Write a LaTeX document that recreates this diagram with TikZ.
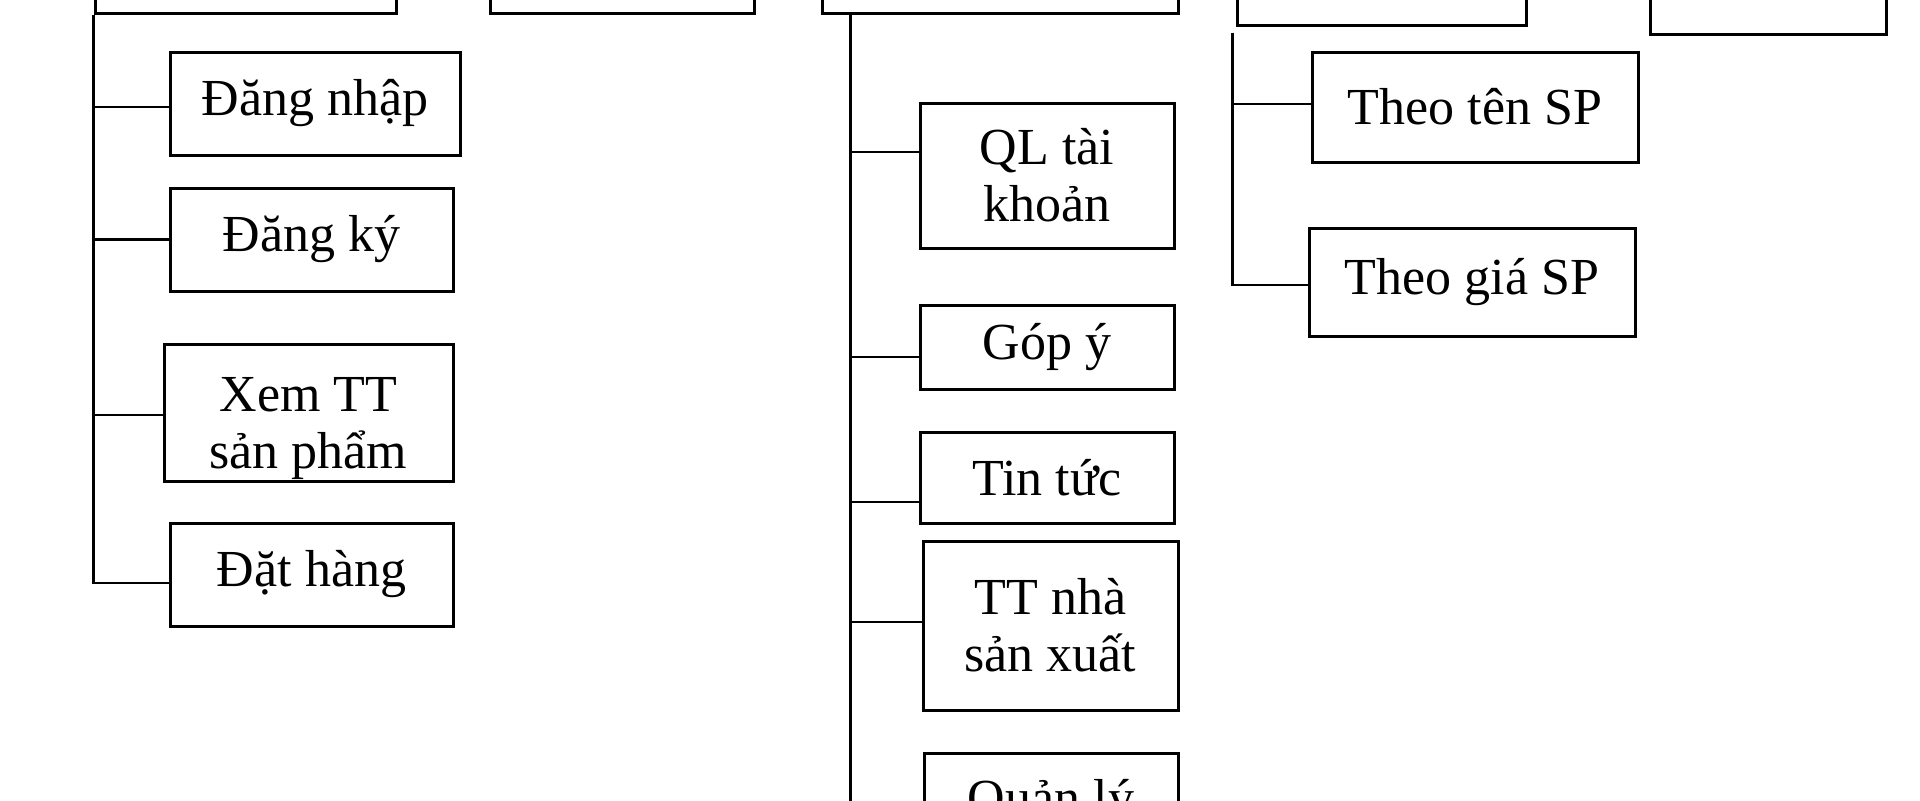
\documentclass[tikz,border=0pt]{standalone}
\usepackage{fontspec}
\setmainfont{Liberation Serif}
\usetikzlibrary{positioning, calc}

\begin{document}
\begin{tikzpicture}[
        x=0.5pt, y=-0.5pt,
        every node/.style={font=\fontsize{26pt}{28.5pt}\selectfont},
        box/.style={draw, rectangle, line width=1.5pt, align=center, inner sep=0pt},
        link/.style={line width=1.2pt}
    ]
        \useasboundingbox (0,0) rectangle (1920,800);
        \clip (0,0) rectangle (1920,800);
        \fill[white] (0,0) rectangle (1920,800);
        % top row, cut off by the page edge
        \node[box, minimum width=150.5pt, minimum height=50pt] (guest) at (245.5,-37) {};
        \node[box, minimum width=132pt, minimum height=50pt] (cart) at (622,-37) {};
        \node[box, minimum width=178pt, minimum height=50pt] (member) at (1000,-37) {};
        \node[box, minimum width=144.5pt, minimum height=50pt] (search) at (1381.5,-25) {};
        \node[box, minimum width=118pt, minimum height=50pt] (contact) at (1768,-16) {};

        \node[box, minimum width=145pt, minimum height=51.5pt] (login) at (315,103.5) {Đăng nhập};
        \node[box, minimum width=141.5pt, minimum height=51.5pt] (register) at (311.5,239.5) {Đăng ký};
        \node[box, minimum width=144.5pt, minimum height=68.5pt,
              label={[name=viewprodtext, align=center, yshift=-8pt]center:Xem TT\\sản phẩm}] (viewprod) at (308.5,412.5) {};
        \node[box, minimum width=141.5pt, minimum height=51.5pt] (order) at (311.5,574.5) {Đặt hàng};

        \node[box, minimum width=127pt, minimum height=72.5pt] (account) at (1047,175.5) {QL tài\\khoản};
        \node[box, minimum width=127pt, minimum height=42pt] (feedback) at (1047,347) {Góp ý};
        \node[box, minimum width=127pt, minimum height=45.5pt] (newsbox) at (1047,477.5) {Tin tức};
        \node[box, minimum width=127.5pt, minimum height=84.5pt] (maker) at (1050.5,625.5) {TT nhà\\sản xuất};
        \node[box, minimum width=127pt, anchor=north, inner ysep=14pt, text height=17pt, text depth=50pt] (manage) at (1051,752) {Quản lý};

        \node[box, minimum width=163pt, minimum height=55pt] (byname) at (1475,107) {Theo tên SP};
        \node[box, minimum width=163pt, minimum height=54pt] (byprice) at (1472,282) {Theo giá SP};

        \draw[link] (guest.south west) |- ($(login.west)+(0,3.5)$);
        \draw[link] (guest.south west) |- (register.west);
        \draw[link] (guest.south west) |- ($(viewprod.west)+(0,2.5)$);
        \draw[link] (guest.south west) |- ($(order.west)+(0,8.5)$);

        \coordinate (mtrunk) at ($(member.south west)+(30,0)$);
        \draw[link] (mtrunk) |- ($(account.west)+(0,-23.5)$);
        \draw[link] (mtrunk) |- ($(feedback.west)+(0,10)$);
        \draw[link] (mtrunk) |- ($(newsbox.west)+(0,24.5)$);
        \draw[link] (mtrunk) |- ($(maker.west)+(0,-3.5)$);
        \draw[link] (mtrunk) |- (manage.west);

        \coordinate (strunk) at ($(search.south west)+(-3,6)$);
        \draw[link] (strunk) |- ($(byname.west)+(0,-3)$);
        \draw[link] (strunk) |- ($(byprice.west)+(0,3)$);
    \end{tikzpicture}
\end{document}
